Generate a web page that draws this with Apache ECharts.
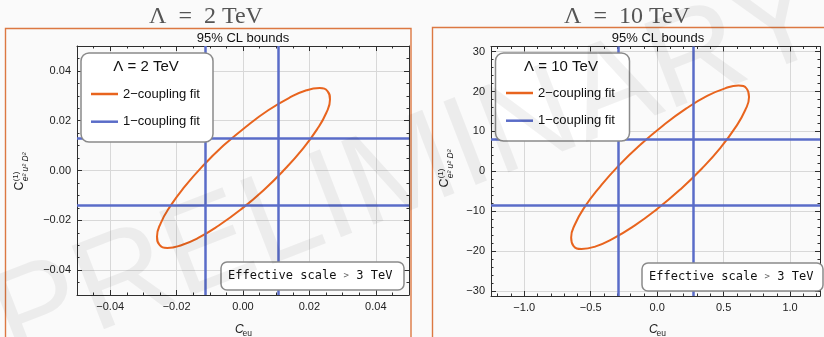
<!DOCTYPE html>
<html>
<head>
<meta charset="utf-8">
<script src="https://cdn.jsdelivr.net/npm/echarts@6/dist/echarts.min.js"></script>
<style>
  html, body { margin: 0; padding: 0; background: #fafafa; }
  #chart { width: 824px; height: 337px; }
</style>
</head>
<body>
<div id="chart"></div>
<script>
// ---- data: 95% CL contours and single-coupling bounds ----
// Lambda = 2 TeV: two-coupling fit contour (C_eu, C_e2u2D2)
const contour2TeV = [
  [-0.0059, 0.0100], [-0.0122, 0.0017], [-0.0177, -0.0067], [-0.0220, -0.0145],
  [-0.0248, -0.0212], [-0.0259, -0.0265], [-0.0252, -0.0298], [-0.0228, -0.0311],
  [-0.0188, -0.0301], [-0.0135, -0.0271], [-0.0073, -0.0221], [-0.0006, -0.0156],
  [0.0062, -0.0079], [0.0125, 0.0004], [0.0180, 0.0087], [0.0223, 0.0165],
  [0.0251, 0.0232], [0.0262, 0.0285], [0.0255, 0.0318], [0.0231, 0.0331],
  [0.0191, 0.0322], [0.0138, 0.0291], [0.0076, 0.0242], [0.0009, 0.0176],
  [-0.0059, 0.0100]
];
// Lambda = 2 TeV: one-coupling fit bounds
const single2TeV_Ceu = [-0.0115, 0.0105];
const single2TeV_CD = [-0.0140, 0.0128];

// Lambda = 10 TeV: two-coupling fit contour
const contour10TeV = [
  [-0.129, 6.6], [-0.293, 1.3], [-0.435, -4.1], [-0.546, -9.0],
  [-0.618, -13.3], [-0.647, -16.6], [-0.630, -18.7], [-0.569, -19.5],
  [-0.467, -18.9], [-0.332, -16.9], [-0.173, -13.7], [-0.001, -9.5],
  [0.173, -4.6], [0.337, 0.7], [0.479, 6.0], [0.589, 11.0],
  [0.662, 15.3], [0.691, 18.6], [0.674, 20.7], [0.612, 21.5],
  [0.511, 20.8], [0.376, 18.9], [0.217, 15.7], [0.045, 11.5],
  [-0.129, 6.6]
];
// Lambda = 10 TeV: one-coupling fit bounds
const single10TeV_Ceu = [-0.29, 0.27];
const single10TeV_CD = [-8.6, 8.1];

// tick labels
const ticks2TeV_x = [-0.04, -0.02, 0, 0.02, 0.04];
const ticks2TeV_y = [-0.04, -0.02, 0, 0.02, 0.04];
const ticks10TeV_x = [-1, -0.5, 0, 0.5, 1];
const ticks10TeV_y = [-30, -20, -10, 0, 10, 20, 30];

// ---- styling ----
const SANS = '"Liberation Sans", Arial, Helvetica, sans-serif';
const SERIF = '"Liberation Serif", "DejaVu Serif", serif';
const MONO = '"DejaVu Sans Mono", "Liberation Mono", monospace';
const ORANGE = '#e8641e';
const BLUE = '#5a6cc8';
const AXIS = '#2e2e2e';
const GRIDC = '#d8d8d8';
const FRAME = '#dc7842';
const NAME2 = '2\u2212coupling fit';
const NAME1 = '1\u2212coupling fit';

function minorValues(min, max, step, major) {
  const out = [];
  for (let i = Math.ceil(min / step - 1e-9); i <= Math.floor(max / step + 1e-9); i++) {
    const v = +(i * step).toFixed(6);
    const r = v / major;
    if (Math.abs(r - Math.round(r)) > 1e-6) out.push(v);
  }
  return out;
}

function fmt(dec) {
  return v => (v < 0 ? '\u2212' : '') + Math.abs(v).toFixed(dec);
}

// four overlaid axes per dimension: labelled side (major + minor ticks) and mirrored side
function frameAxes(gridIndex, min, max, majors, minors, formatter, side, mirror) {
  const base = { type: 'value', gridIndex, min, max };
  const line = { show: true, onZero: false, lineStyle: { color: AXIS, width: 1 } };
  const majorTick = { show: true, inside: true, length: 5, customValues: majors, lineStyle: { color: AXIS, width: 1 } };
  const minorTick = { show: true, inside: true, length: 2.5, customValues: minors, lineStyle: { color: AXIS, width: 1 } };
  return [
    Object.assign({}, base, {
      position: side, axisLine: line, axisTick: majorTick,
      axisLabel: { show: true, customValues: majors, formatter, margin: 6, color: '#222', fontSize: 11, fontFamily: SANS },
      splitLine: { show: true, lineStyle: { color: GRIDC, width: 1 } }
    }),
    Object.assign({}, base, {
      position: side, axisLine: { show: false, onZero: false }, axisTick: minorTick,
      axisLabel: { show: false }, splitLine: { show: false }
    }),
    Object.assign({}, base, {
      position: mirror, axisLine: line, axisTick: majorTick,
      axisLabel: { show: false }, splitLine: { show: false }
    }),
    Object.assign({}, base, {
      position: mirror, axisLine: { show: false, onZero: false }, axisTick: minorTick,
      axisLabel: { show: false }, splitLine: { show: false }
    })
  ];
}

const xAxes = [].concat(
  frameAxes(0, -0.05, 0.05, ticks2TeV_x, minorValues(-0.05, 0.05, 0.005, 0.02), fmt(2), 'bottom', 'top'),
  frameAxes(1, -1.25, 1.225, ticks10TeV_x, minorValues(-1.25, 1.225, 0.1, 0.5), fmt(1), 'bottom', 'top')
);
const yAxes = [].concat(
  frameAxes(0, -0.05, 0.05, ticks2TeV_y, minorValues(-0.05, 0.05, 0.005, 0.02), fmt(2), 'left', 'right'),
  frameAxes(1, -31.3, 31.3, ticks10TeV_y, minorValues(-31.3, 31.3, 2, 10), fmt(0), 'left', 'right')
);

function contourSeries(data, axisIdx) {
  return {
    name: NAME2, type: 'line', xAxisIndex: axisIdx, yAxisIndex: axisIdx,
    data, smooth: 0.5, showSymbol: false, symbol: 'none', z: 4,
    lineStyle: { color: ORANGE, width: 2 }, itemStyle: { color: ORANGE }
  };
}
function boundSeries(xs, ys, axisIdx) {
  return {
    name: NAME1, type: 'line', xAxisIndex: axisIdx, yAxisIndex: axisIdx,
    data: [], showSymbol: false, z: 3,
    lineStyle: { color: BLUE, width: 2.5 }, itemStyle: { color: BLUE },
    markLine: {
      silent: true, symbol: 'none', animation: false, precision: 6,
      label: { show: false },
      lineStyle: { color: BLUE, width: 2.5, type: 'solid' },
      data: xs.map(v => ({ xAxis: v })).concat(ys.map(v => ({ yAxis: v })))
    }
  };
}

function legendAt(left, top) {
  return {
    left, top, orient: 'vertical', padding: 0, itemGap: 11.7,
    itemWidth: 27, itemHeight: 2.5, icon: 'rect', selectedMode: false, z: 20,
    data: [NAME2, NAME1],
    textStyle: { fontFamily: SANS, fontSize: 13, color: '#111', lineHeight: 16 }
  };
}

function text(x, y, str, style, extra) {
  return Object.assign({
    type: 'text', x, y, silent: true,
    style: Object.assign({ text: str, fontFamily: SANS, fill: '#111', align: 'center', verticalAlign: 'middle' }, style)
  }, extra || {});
}

function yName(x, y) {
  return {
    type: 'group', x, y, rotation: Math.PI / 2, silent: true,
    children: [
      text(0, 0, 'C', { fontSize: 12.5, align: 'left', fill: '#222' }),
      text(9.2, -4.5, '(1)', { fontSize: 8, align: 'left', fill: '#222' }),
      text(9.2, 6, 'e\u00b2 u\u00b2 D\u00b2', { fontSize: 8.5, fontStyle: 'italic', align: 'left', fill: '#222' })
    ]
  };
}
function xName(x, y) {
  return [
    text(x - 8, y, 'C', { fontSize: 12, fontStyle: 'italic', align: 'left', fill: '#222' }),
    text(x - 0.5, y + 3.5, 'eu', { fontSize: 8.5, align: 'left', fill: '#222' })
  ];
}
function legendBox(x, y, w, h, title, cx) {
  return [
    { type: 'rect', z: 10, silent: true, shape: { x, y, width: w, height: h, r: 8 },
      style: { fill: '#ffffff', stroke: '#8a8a8a', lineWidth: 1.5 } },
    text(cx, 67, title, { fontSize: 15, fill: '#111' }, { z: 11 })
  ];
}
function scaleBox(x, y, w, h) {
  return [
    { type: 'rect', z: 10, silent: true, shape: { x, y, width: w, height: h, r: 6 },
      style: { fill: '#ffffff', stroke: '#8a8a8a', lineWidth: 1.5 } },
    { type: 'text', z: 11, silent: true, x: x + 7, y: y + h / 2,
      style: {
        text: '{t|Effective scale }{g|>}{t| 3 TeV}', align: 'left', verticalAlign: 'middle',
        rich: {
          t: { fontFamily: MONO, fontSize: 12, fill: '#111' },
          g: { fontFamily: MONO, fontSize: 9, fill: '#666' }
        }
      } }
  ];
}

const graphics = [].concat(
  // panel frames
  [{ type: 'rect', silent: true, shape: { x: 5.5, y: 28.5, width: 405.5, height: 330 },
     style: { fill: 'none', stroke: FRAME, lineWidth: 1.4 } },
   { type: 'rect', silent: true, shape: { x: 432.5, y: 27.5, width: 430, height: 330 },
     style: { fill: 'none', stroke: FRAME, lineWidth: 1.4 } }],
  // panel titles
  [text(206, 16.5, '\u039b\u2002=\u20022 TeV', { fontFamily: SERIF, fontSize: 24, fill: '#555' }),
   text(627, 16.5, '\u039b\u2002=\u200210 TeV', { fontFamily: SERIF, fontSize: 24, fill: '#555' }),
   text(243, 38, '95% CL bounds', { fontSize: 13 }),
   text(658, 38, '95% CL bounds', { fontSize: 13 })],
  legendBox(81, 53, 132, 89, '\u039b = 2 TeV', 146),
  legendBox(495.5, 53, 134, 88, '\u039b = 10 TeV', 561),
  scaleBox(221, 262, 183, 28),
  scaleBox(642, 263, 181, 28),
  [yName(20, 190.5), yName(445, 187.5)],
  xName(243, 330),
  xName(657, 330),
  // watermark
  [text(410, 172, 'PRELIMINARY', { fontSize: 130, fill: 'rgba(0,0,0,0.055)' }, { rotation: 0.37, z: 100 })]
);

const chart = echarts.init(document.getElementById('chart'), null, { renderer: 'canvas' });
chart.setOption({
  backgroundColor: '#fafafa',
  animation: false,
  grid: [
    { left: 77, top: 46, width: 332, height: 249, outerBoundsMode: 'none' },
    { left: 491, top: 46.5, width: 329, height: 249.5, outerBoundsMode: 'none' }
  ],
  xAxis: xAxes,
  yAxis: yAxes,
  legend: [legendAt(91, 86), legendAt(506, 85)],
  series: [
    boundSeries(single2TeV_Ceu, single2TeV_CD, 0),
    contourSeries(contour2TeV, 0),
    boundSeries(single10TeV_Ceu, single10TeV_CD, 4),
    contourSeries(contour10TeV, 4)
  ],
  graphic: { elements: graphics }
});
</script>
</body>
</html>
